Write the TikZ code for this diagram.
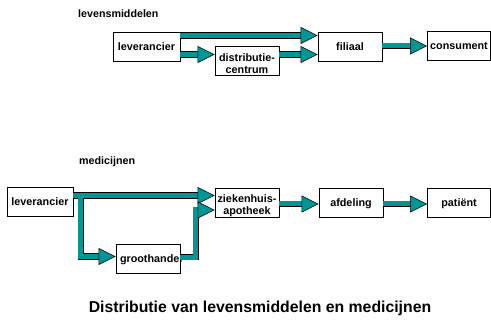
\documentclass[tikz,border=0pt]{standalone}
\usepackage{fontspec}
\setmainfont{Liberation Sans}
\usetikzlibrary{arrows.meta}
\definecolor{pijlkleur}{RGB}{0,150,150}

\begin{document}
\begin{tikzpicture}[x=1pt,y=1pt,
    kader/.style={draw=black, line width=0.8pt, fill=white, inner sep=0pt,
      minimum height=29pt, font=\fontsize{10.8}{12}\selectfont\bfseries},
    blok/.style={kader, minimum width=#1, text height=7.8pt, text depth=0pt},
    blok/.default=64pt,
    blok2/.style={kader, minimum width=64pt, align=center},
    kop/.style={font=\fontsize{10.7}{12}\selectfont\bfseries, inner sep=0pt, anchor=base west},
    titel/.style={font=\fontsize{15.8}{18}\selectfont\bfseries, inner sep=0pt, anchor=base},
    pijlrand/.style={draw=black, line width=6.6pt, shorten >=14pt},
    pijlkern/.style={draw=pijlkleur, line width=5pt,
      -{Triangle[length=17pt, width=17pt, line width=0.6pt, color=black, fill=pijlkleur]}}]
                \useasboundingbox (0,0) rectangle (491,-321);
                \node [kop] (kop1) at (78,-17.3) {levensmiddelen};
                \node [blok=67pt] (lev1) at (146.5,-46.5) {leverancier};
                \node [blok2] (dc) at (247,-60.5) {\rule{0pt}{14pt}distributie-\\centrum};
                \node [blok] (fil) at (350,-47) {filiaal};
                \node [blok=63pt] (con) at (459,-46) {consument};
                \node [kop] (kop2) at (79,-165) {medicijnen};
                \node [blok=66pt] (lev2) at (40,-201.5) {leverancier};
                \node [blok, inner xsep=3pt, text width=56pt, align=left] (gh) at (148,-258.5) {groothandel};
                \node [blok2] (zh) at (247,-202.5) {\rule{0pt}{14pt}ziekenhuis-\\apotheek};
                \node [blok] (afd) at (351,-202.5) {afdeling};
                \node [blok=63pt] (pat) at (459,-202.5) {patiënt};
                \node [titel] (titel) at (260,-312.7) {Distributie van levensmiddelen en medicijnen};
                % eerst alle randen, dan de vulling
                \foreach \laag in {pijlrand,pijlkern} {
                \draw [\laag] ([yshift=11]lev1.east) -- ([yshift=11.5]fil.west);
                \draw [\laag] ([yshift=-8]lev1.east) -- ([yshift=6]dc.west);
                \draw [\laag] ([yshift=6]dc.east) -- ([yshift=-7.5]fil.west);
                \draw [\laag] ([yshift=1]fil.east) -- (con.west);
                \draw [\laag] ([yshift=6]lev2.east) -- ([yshift=7]zh.west);
                \draw [\laag] ([yshift=6]lev2.east) -- ++(7.5,0) |- ([yshift=2]gh.west);
                \draw [\laag] ([yshift=1.5]gh.east) -- ++(15.5,0) |- ([yshift=-7.5]zh.west);
                \draw [\laag] ([yshift=-1.5]zh.east) -- ([yshift=-1.5]afd.west);
                \draw [\laag] ([yshift=-1.5]afd.east) -- ([yshift=-1.5]pat.west);
                }
            \end{tikzpicture}
\end{document}
